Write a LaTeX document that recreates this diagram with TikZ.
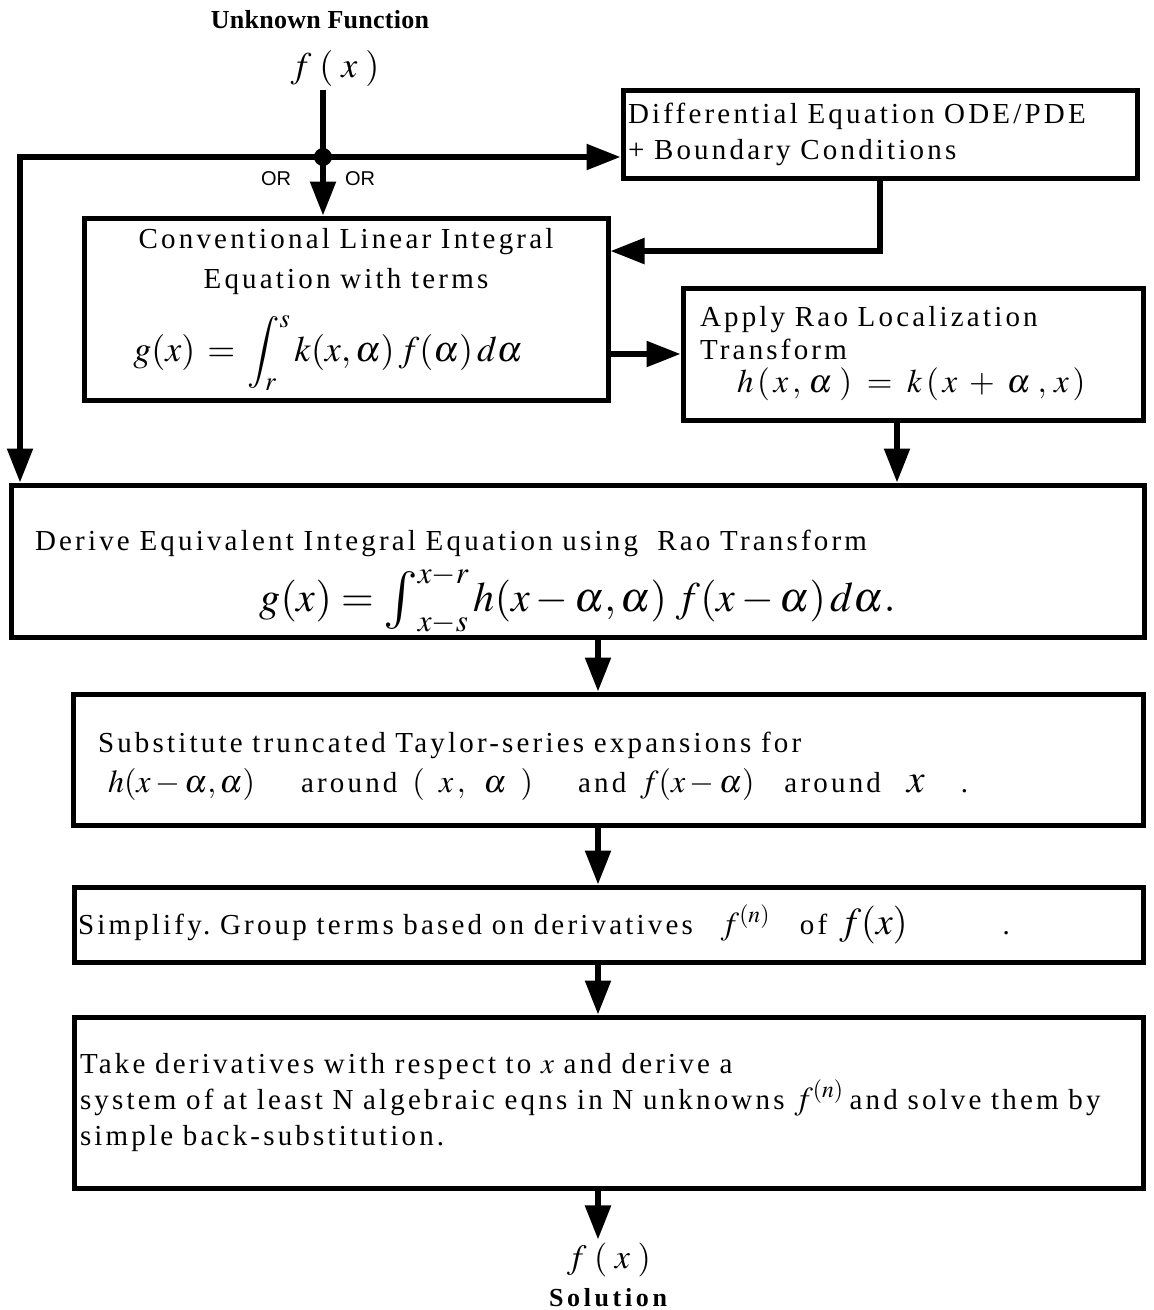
\documentclass[tikz,border=0pt]{standalone}
\usepackage{mathptmx}
\usepackage[no-math]{fontspec}
\setmainfont{Liberation Serif}
\newfontfamily\trackfont[LetterSpace=11]{Liberation Serif}
\newfontfamily\headfont[LetterSpace=1]{Liberation Serif}
\newfontfamily\solfont[LetterSpace=14]{Liberation Serif}
\newfontfamily\orfont{Liberation Sans}
\usetikzlibrary{arrows.meta,calc}
\frenchspacing

\newcommand{\mth}[1]{{\fontsize{32}{36}\selectfont$#1$}}
\newcommand{\bigintsign}{\mathop{\vcenter{\hbox{\fontsize{58}{60}\selectfont$\int$}}}\nolimits}

\tikzset{
  stage/.style={draw, line width=5pt, align=left, inner ysep=0pt,
    font=\trackfont\fontsize{29}{36}\selectfont},
  flow/.style={line width=5.5pt, -{Triangle[length=34pt,width=25pt]}},
  plain/.style={line width=5.5pt},
  caption/.style={font=#1\bfseries\fontsize{26}{30}\selectfont},
}

\begin{document}
\begin{tikzpicture}[x=1pt,y=-1pt]
\useasboundingbox (0,0) rectangle (1154,1310);

% input
\node[caption=\headfont] (unknown) at (320,20) {Unknown Function};
\node[font=\fontsize{36}{40}\selectfont] (fin) at (335,68) {$f\;(\;x\;)$};

% boxes
\node[stage, text width=504pt, inner xsep=5pt, minimum height=88pt] (de) at (880,134)
  {Differential Equation ODE/PDE\\+ Boundary Conditions};
\node[stage, align=center, font=\trackfont\fontsize{29}{40}\selectfont, text width=504pt, inner xsep=10pt, minimum height=182pt] (conv) at (346,309)
  {Conventional Linear Integral\\Equation with terms\\[20pt]
   \hspace*{-36pt}{\fontsize{36}{40}\selectfont$\displaystyle g(x)=\int_r^s k(x,\alpha)\,f(\alpha)\,d\alpha$}};
\node[stage, font=\trackfont\fontsize{29}{33}\selectfont, text width=426pt, inner xsep=17pt, minimum height=132pt] (apply) at (913,354)
  {Apply Rao Localization\\Transform\\\hspace*{37pt}{\fontsize{33}{36}\selectfont$h\,(\,x\,,\,\alpha\;)\;=\;k\,(\,x\;+\;\alpha\;,\,x\,)$}};
\node[stage, text width=1085pt, inner xsep=24pt, minimum height=152pt] (derive) at (577.5,561)
  {\rule{0pt}{62pt}Derive Equivalent Integral Equation using\ \ Rao Transform\\[8pt]
   \makebox[\linewidth]{\fontsize{42}{44}\selectfont$g(x)=\bigintsign_{x-s}^{x-r} h(x-\alpha,\alpha)\;f(x-\alpha)\,d\alpha.$}};
\node[stage, text width=1020pt, inner xsep=25pt, minimum height=131pt] (subst) at (608,759.5)
  {\rule{0pt}{34pt}Substitute truncated Taylor-series expansions for\\[4pt]
   \hspace*{10pt}\mth{h(x-\alpha,\alpha)}\hspace{46pt}around\hspace{15pt}\mth{(\;\;x\,,\;\;\alpha\;\;)}\hspace{45pt}and\hspace{14pt}\mth{f(x-\alpha)}\hspace{30pt}around\hspace{26pt}{\fontsize{40}{40}\selectfont$x$}\hspace{36pt}.};
\node[stage, text width=1061pt, inner xsep=4pt, minimum height=75pt] (simp) at (608.5,924.5)
  {Simplify. Group terms based on derivatives\hspace{28pt}\mth{f^{(n)}}\hspace{30pt}of\hspace{12pt}{\fontsize{38}{38}\selectfont$f(x)$}\hspace{95pt}.};
\node[stage, text width=1057pt, inner xsep=6pt, minimum height=171pt] (take) at (608.5,1102.5)
  {Take derivatives with respect to $x$ and derive a\\
   system of at least N algebraic eqns in N unknowns\hspace{10pt}\mth{f^{(n)}}\hspace{6pt}and solve them by\\
   simple back-substitution.};

% output
\node[font=\fontsize{34}{36}\selectfont] (fout) at (609,1260) {$f\;(\;x\;)$};
\node[caption=\solfont] (solution) at (608,1298) {Solution};

% connectors
\coordinate (split) at (323,157);
\coordinate (left) at (20,157);
\coordinate (spine) at (598,0);

\draw[plain] (split |- fin.south) -- (split);
\draw[flow] (split) -- (split |- conv.north);
\draw[flow] (split) -- (split -| de.west);
\draw[flow] (split) -- (left) -- (left |- derive.north);
\fill (split) circle (9pt);
\node[font=\orfont\fontsize{20}{24}\selectfont] (orleft) at (276,179) {OR};
\node[font=\orfont\fontsize{20}{24}\selectfont] (orright) at (360,179) {OR};

\draw[flow] (de.south) |- ($(conv.north east)!0.19!(conv.south east)$);
\draw[flow] (conv.east |- apply.west) -- (apply.west);
\draw[flow] ([xshift=-16pt]apply.south) -- ([xshift=-16pt]apply.south |- derive.north);
\draw[flow] (spine |- derive.south) -- (spine |- subst.north);
\draw[flow] (spine |- subst.south) -- (spine |- simp.north);
\draw[flow] (spine |- simp.south) -- (spine |- take.north);
\draw[flow] (spine |- take.south) -- (spine |- fout.north);

\end{tikzpicture}
\end{document}
